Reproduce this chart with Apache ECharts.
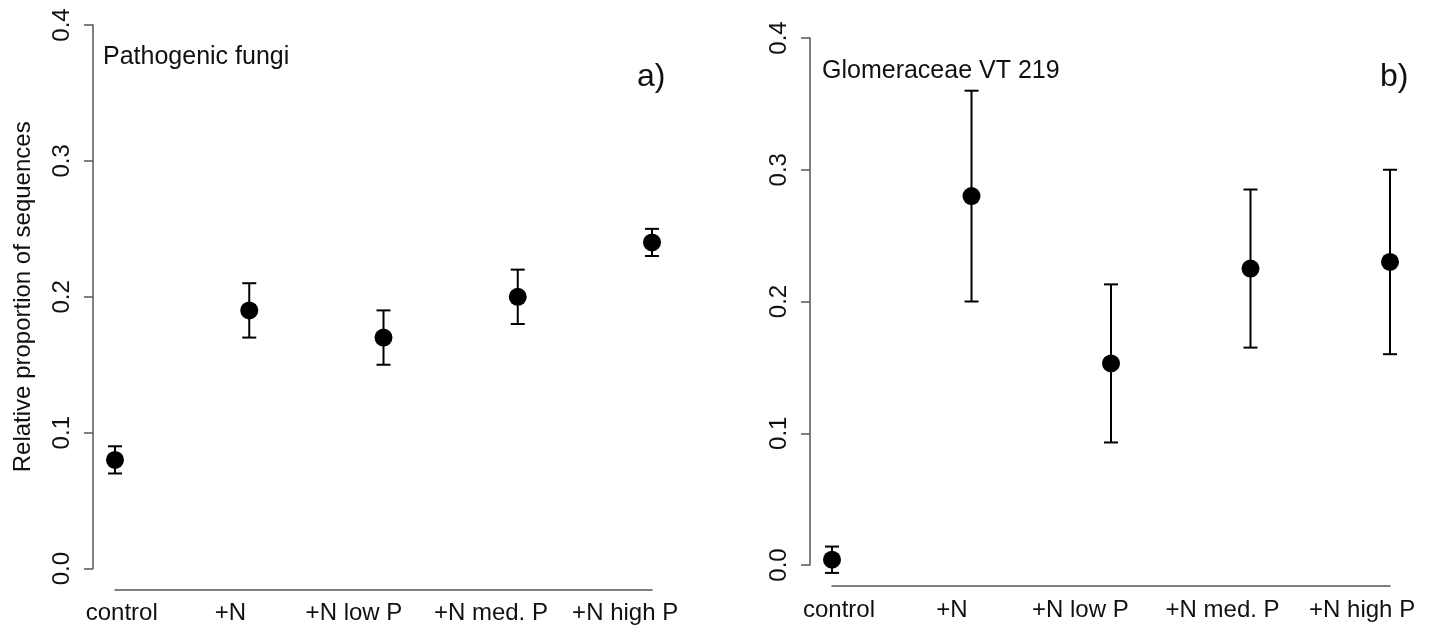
<!DOCTYPE html>
<html>
<head>
<meta charset="utf-8">
<script src="https://cdn.jsdelivr.net/npm/echarts@6/dist/echarts.min.js"></script>
<style>
  html, body { margin: 0; padding: 0; background: #fff; }
  #chart { width: 1435px; height: 628px; }
</style>
</head>
<body>
<div id="chart"></div>
<script>
// data
const categories = ['control', '+N', '+N low P', '+N med. P', '+N high P'];
const yTicks = [0, 0.1, 0.2, 0.3, 0.4];

// a) Pathogenic fungi
const fungiMean = [0.08, 0.19, 0.17, 0.20, 0.24];
const fungiLow = [0.07, 0.17, 0.15, 0.18, 0.23];
const fungiHigh = [0.09, 0.21, 0.19, 0.22, 0.25];

// b) Glomeraceae VT 219
const glomMean = [0.004, 0.28, 0.153, 0.225, 0.23];
const glomLow = [-0.006, 0.20, 0.093, 0.165, 0.16];
const glomHigh = [0.014, 0.36, 0.213, 0.285, 0.30];

// where the category names sit along the x axis (in category units)
const labelPos = [0.05, 0.86, 1.78, 2.8, 3.8];

const font = "'Liberation Sans', Arial, Helvetica, sans-serif";
const axisGrey = '#555';

const myChart = echarts.init(document.getElementById('chart'));

// x axis: points at 0..4, labels placed at labelPos
function xAxisFor(gridIndex) {
  return {
    type: 'value', gridIndex: gridIndex, min: 0, max: 4, offset: 21,
    axisLine: { show: true, onZero: false, lineStyle: { color: axisGrey, width: 1.5 } },
    axisTick: { show: false },
    splitLine: { show: false },
    axisLabel: {
      customValues: labelPos,
      margin: 12,
      color: '#111', fontSize: 24, fontFamily: font,
      formatter: function (v) {
        const i = labelPos.indexOf(v);
        return i >= 0 ? categories[i] : '';
      }
    }
  };
}

function yAxisFor(gridIndex, withName) {
  return {
    type: 'value', gridIndex: gridIndex, min: 0, max: 0.4, interval: 0.1, offset: 22,
    name: withName ? 'Relative proportion of sequences' : '',
    nameLocation: 'middle', nameRotate: 90, nameGap: 58,
    nameTextStyle: { color: '#111', fontSize: 24, fontFamily: font },
    axisLine: { show: true, onZero: false, lineStyle: { color: axisGrey, width: 1.5 } },
    axisTick: { show: true, length: 9, lineStyle: { color: axisGrey, width: 1.5 } },
    splitLine: { show: false },
    axisLabel: {
      rotate: 90, margin: 19, color: '#111', fontSize: 24, fontFamily: font,
      formatter: function (v) { return v.toFixed(1); }
    }
  };
}

function errorSeries(idx, low, high) {
  return {
    type: 'custom', xAxisIndex: idx, yAxisIndex: idx, silent: true,
    data: low.map(function (l, i) { return [i, l, high[i]]; }),
    renderItem: function (params, api) {
      const lo = api.coord([api.value(0), api.value(1)]);
      const hi = api.coord([api.value(0), api.value(2)]);
      const cap = 7;
      const st = { stroke: '#000', lineWidth: 2 };
      return {
        type: 'group',
        children: [
          { type: 'line', shape: { x1: hi[0], y1: hi[1], x2: lo[0], y2: lo[1] }, style: st },
          { type: 'line', shape: { x1: hi[0] - cap, y1: hi[1], x2: hi[0] + cap, y2: hi[1] }, style: st },
          { type: 'line', shape: { x1: lo[0] - cap, y1: lo[1], x2: lo[0] + cap, y2: lo[1] }, style: st }
        ]
      };
    }
  };
}

function pointSeries(idx, mean) {
  return {
    type: 'scatter', xAxisIndex: idx, yAxisIndex: idx, symbol: 'circle', symbolSize: 18,
    itemStyle: { color: '#000', opacity: 1 }, silent: true,
    data: mean.map(function (m, i) { return [i, m]; })
  };
}

myChart.setOption({
  animation: false,
  title: [
    { text: 'Pathogenic fungi', left: 98, top: 40,
      textStyle: { fontSize: 25, fontWeight: 'normal', color: '#111', fontFamily: font } },
    { text: 'a)', left: 632, top: 56,
      textStyle: { fontSize: 32, fontWeight: 'normal', color: '#111', fontFamily: font } },
    { text: 'Glomeraceae VT 219', left: 817, top: 54,
      textStyle: { fontSize: 25, fontWeight: 'normal', color: '#111', fontFamily: font } },
    { text: 'b)', left: 1375, top: 56,
      textStyle: { fontSize: 32, fontWeight: 'normal', color: '#111', fontFamily: font } }
  ],
  grid: [
    { left: 115, top: 25, width: 537, height: 543.6 },
    { left: 832, top: 38, width: 558, height: 527 }
  ],
  xAxis: [xAxisFor(0), xAxisFor(1)],
  yAxis: [yAxisFor(0, true), yAxisFor(1, false)],
  series: [
    errorSeries(0, fungiLow, fungiHigh),
    pointSeries(0, fungiMean),
    errorSeries(1, glomLow, glomHigh),
    pointSeries(1, glomMean)
  ]
});
</script>
</body>
</html>
